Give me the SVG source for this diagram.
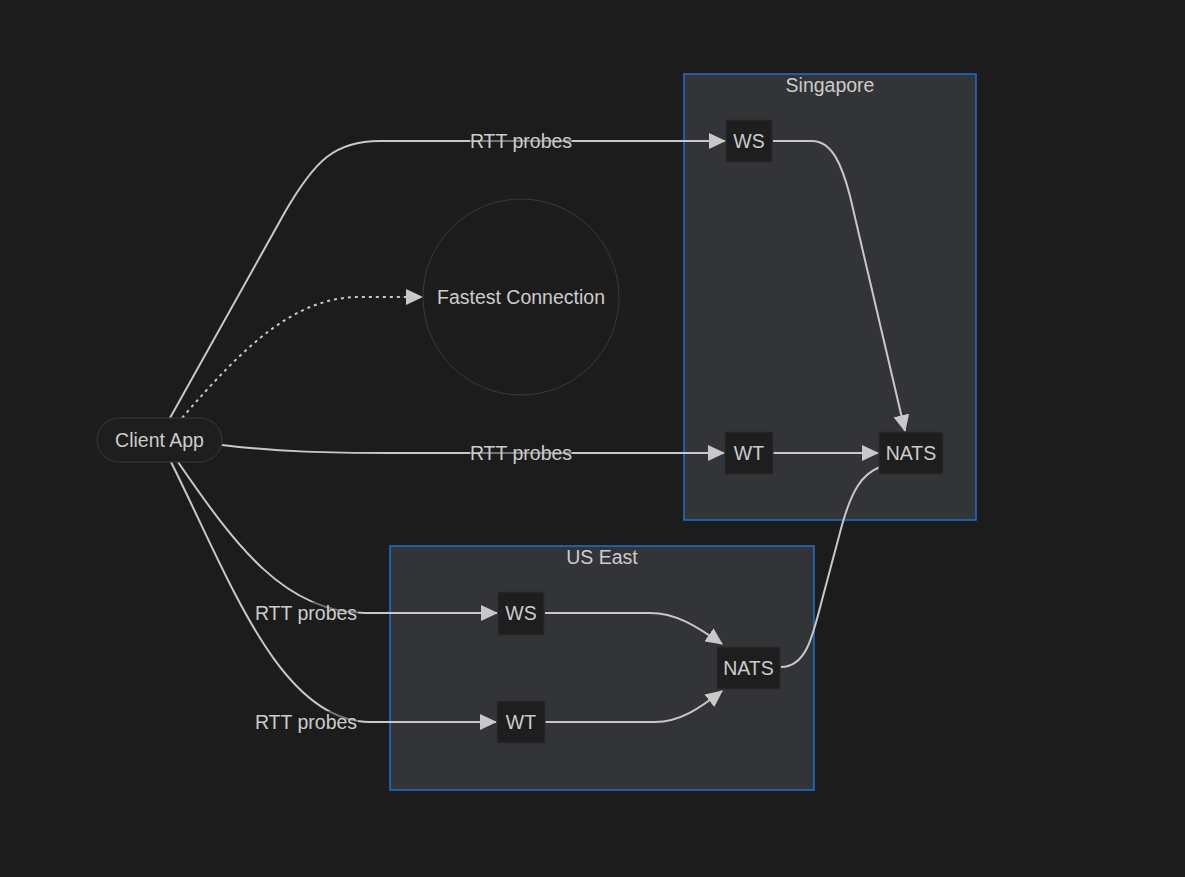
<svg xmlns="http://www.w3.org/2000/svg" width="1185" height="877" viewBox="0 0 1185 877">
<style>
text{font-family:"Liberation Sans",Arial,sans-serif;font-size:19.5px;fill:#cccccc;text-anchor:middle;dominant-baseline:central}
.cluster{fill:#333438;stroke:#1f6fd1;stroke-width:1.5}
.node{fill:#1e1e1e;stroke:#2c2c2c;stroke-width:1}
.edge{fill:none;stroke:#c8c8c8;stroke-width:2}
.dotted{stroke-dasharray:3 4}
.lbl{fill:#1c1c1c;opacity:0.5}
</style>
<defs>
<marker id="arrow" markerUnits="userSpaceOnUse" viewBox="0 0 17 16" refX="16" refY="8" markerWidth="17" markerHeight="16" orient="auto">
<path d="M0,0 L17,8 L0,16 z" fill="#c8c8c8"/>
</marker>
</defs>
<rect x="0" y="0" width="1185" height="877" fill="#1c1c1c"/>

<g id="cluster-singapore">
<rect class="cluster" x="684" y="74" width="292" height="446"/>
<text x="830" y="85">Singapore</text>
</g>
<g id="cluster-useast">
<rect class="cluster" x="390" y="546" width="424" height="244"/>
<text x="602" y="557">US East</text>
</g>

<g id="connectors">
<path class="edge" d="M170,418 L285,212 C315,160 335,141 380,141 L725,141" marker-end="url(#arrow)"/>
<path class="edge dotted" d="M182,418 C245,345 295,297 360,297 L422,297" marker-end="url(#arrow)"/>
<path class="edge" d="M222,445 C280,452 330,453 390,453 L724,453" marker-end="url(#arrow)"/>
<path class="edge" d="M178,462 C235,545 285,613 365,613 L497,613" marker-end="url(#arrow)"/>
<path class="edge" d="M171,462 C230,580 280,722 370,722 L496,722" marker-end="url(#arrow)"/>
<path class="edge" d="M773,141 L812,141 C832,141 842,165 850,196 L905,431" marker-end="url(#arrow)"/>
<path class="edge" d="M773,453 L878,453" marker-end="url(#arrow)"/>
<path class="edge" d="M781,667 C805,667 812,640 822,600 L842,525 C852,490 862,474 880,467"/>
<path class="edge" d="M545,613 L650,613 C675,613 695,625 722,644" marker-end="url(#arrow)"/>
<path class="edge" d="M545,722 L655,722 C680,722 700,708 722,691" marker-end="url(#arrow)"/>
<g id="edge-labels">
<rect class="lbl" x="470" y="130" width="102" height="22"/>
<text x="521" y="141">RTT probes</text>
<rect class="lbl" x="470" y="442" width="102" height="22"/>
<text x="521" y="453">RTT probes</text>
<rect class="lbl" x="255" y="602" width="103" height="22"/>
<text x="306" y="613">RTT probes</text>
<rect class="lbl" x="255" y="711" width="103" height="22"/>
<text x="306" y="722">RTT probes</text>
</g>
</g>

<g id="node-client">
<rect x="97" y="418" width="125" height="44" rx="22" ry="22" fill="#1e1e1e" stroke="#3a3a3a" stroke-width="1"/>
<text x="159.5" y="440">Client App</text>
</g>
<g id="node-fastest">
<circle cx="521" cy="297" r="98" fill="#1c1c1c" stroke="#3a3a3a" stroke-width="1"/>
<text x="521" y="297">Fastest Connection</text>
</g>
<g id="node-sg-ws">
<rect class="node" x="726" y="120" width="46" height="42"/>
<text x="749" y="141">WS</text>
</g>
<g id="node-sg-wt">
<rect class="node" x="725" y="432" width="48" height="42"/>
<text x="749" y="453">WT</text>
</g>
<g id="node-sg-nats">
<rect class="node" x="879" y="432" width="64" height="42"/>
<text x="911" y="453">NATS</text>
</g>
<g id="node-us-ws">
<rect class="node" x="498" y="592" width="46" height="43"/>
<text x="521" y="613">WS</text>
</g>
<g id="node-us-wt">
<rect class="node" x="497" y="701" width="48" height="42"/>
<text x="521" y="722">WT</text>
</g>
<g id="node-us-nats">
<rect class="node" x="717" y="647" width="63" height="42"/>
<text x="748.5" y="668">NATS</text>
</g>
</svg>
